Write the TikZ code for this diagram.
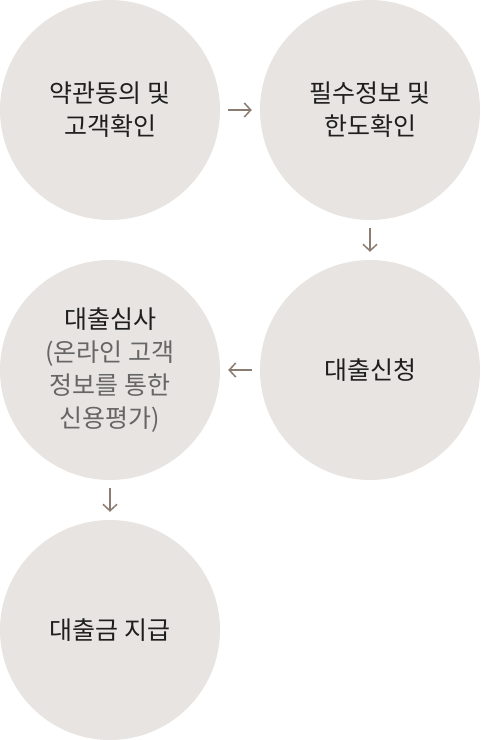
\documentclass[tikz,border=0pt]{standalone}
\usepackage{fontspec}
\setmainfont{Noto Sans CJK KR}
\usetikzlibrary{arrows.meta}
\definecolor{circfill}{HTML}{E8E4E1}
\definecolor{arrcol}{HTML}{8C7B70}
\definecolor{darktext}{HTML}{1E1E1E}
\definecolor{graytext}{HTML}{666666}
\begin{document}
\begin{tikzpicture}[x=1pt,y=-1pt,
  stepcircle/.style={circle, fill=circfill, minimum size=220pt, inner sep=0pt,
    align=center, text=darktext, font=\fontsize{25}{33}\selectfont},
  arr/.style={draw=arrcol, line width=1.5pt, -{Straight Barb[length=6.5pt,width=14pt]},
    shorten >=8pt, shorten <=8pt}]
\useasboundingbox (0,0) rectangle (480,740);
\node[stepcircle] (c1) at (110,110) {약관동의 및\\고객확인};
\node[stepcircle] (c2) at (370,110) {필수정보 및\\한도확인};
\node[stepcircle] (c3) at (370,370) {대출신청};
\node[stepcircle] (c4) at (110,370) {대출심사\\\textcolor{graytext}{(온라인 고객}\\\textcolor{graytext}{정보를 통한}\\\textcolor{graytext}{신용평가)}};
\node[stepcircle] (c5) at (110,630) {대출금 지급};
\draw[arr] (c1) -- (c2);
\draw[arr] (c2) -- (c3);
\draw[arr] (c3) -- (c4);
\draw[arr] (c4) -- (c5);
\end{tikzpicture}
\end{document}
